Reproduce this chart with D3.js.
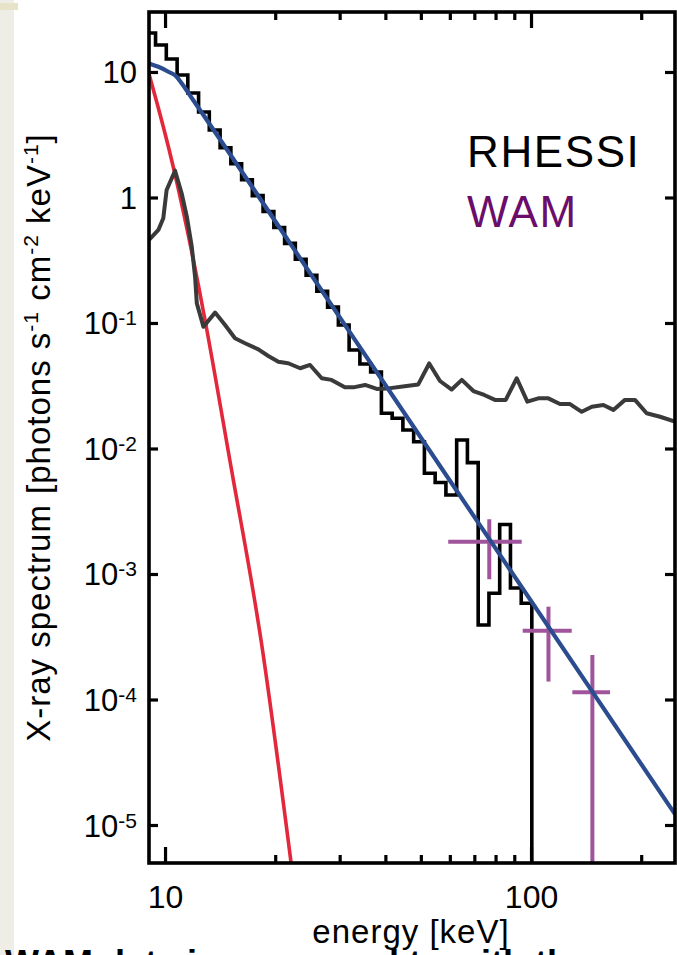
<!DOCTYPE html>
<html>
<head>
<meta charset="utf-8">
<script src="https://cdn.jsdelivr.net/npm/d3@7"></script>
<style>
  body { margin: 0; background: #fff; }
  svg { display: block; }
  text { font-family: "Liberation Sans", Arial, Helvetica, sans-serif; }
</style>
</head>
<body>
<svg width="677" height="955"></svg>
<script>
// RHESSI count spectrum, step histogram (bin edges in keV, flux per bin)
var rhessiEdges = [8.81, 9.42, 10.08, 10.79, 11.54, 12.35, 13.21, 14.14, 15.13, 16.19, 17.32, 18.53,
    19.83, 21.22, 22.70, 24.29, 25.99, 27.81, 29.76, 31.84, 34.07, 36.46, 39.01, 41.74, 44.66,
    47.79, 51.13, 54.71, 58.54, 62.64, 67.02, 71.72, 76.74, 82.11, 87.86, 94.02, 100.5];
var rhessiFlux = [20.46, 16.41, 12.69, 9.46, 6.80, 4.80, 3.45, 2.49, 1.856, 1.386, 1.035, 0.773,
    0.577, 0.431, 0.322, 0.240, 0.179, 0.1338, 0.0964, 0.0609, 0.0471, 0.0407, 0.01908, 0.01740,
    0.01404, 0.01133, 6.35e-3, 5.36e-3, 4.26e-3, 0.01169, 7.71e-3, 3.92e-4, 7.02e-4, 2.48e-3,
    7.73e-4, 5.84e-4];

// background spectrum (dark grey)
var bgEnergy = [9.04, 9.59, 9.89, 10.1, 10.65, 11.1, 11.47, 11.83, 12.08, 12.21, 12.73, 13.7,
    14.59, 15.53, 16.54, 17.99, 19.15, 20.4, 21.7, 23.4, 24.9, 26.8, 28.5, 31.0, 32.7, 35.2,
    37.9, 40.3, 45.7, 49.2, 52.7, 56.4, 60.7, 64.7, 69.6, 74.5, 79.7, 85.3, 91.4, 97.7, 104.7,
    111.5, 120, 127.8, 137.6, 146.6, 157.6, 167.9, 180.6, 192.3, 207, 225.2, 247.4];
var bgFlux = [0.459, 0.551, 0.683, 1.148, 1.635, 1.08, 0.703, 0.406, 0.234, 0.144, 0.0934, 0.121,
    0.0964, 0.0755, 0.0689, 0.0617, 0.0546, 0.0492, 0.0478, 0.0436, 0.0463, 0.0363, 0.0352,
    0.0307, 0.0307, 0.0321, 0.0298, 0.0300, 0.0315, 0.0324, 0.0476, 0.0345, 0.0295, 0.0352,
    0.0287, 0.0267, 0.0244, 0.0244, 0.0363, 0.0236, 0.0251, 0.0251, 0.0226, 0.0226, 0.0196,
    0.0215, 0.0222, 0.0203, 0.0244, 0.0244, 0.0191, 0.0179, 0.0164];

// total fit (blue) and thermal component (red)
var fitEnergy = [9.04, 9.59, 10.21, 10.76, 11.1, 11.83, 30.06, 76.7, 247.4];
var fitFlux = [11.7, 11.0, 10.05, 9.17, 8.13, 6.21, 0.1104, 1.92e-3, 1.22e-5];
var thermalEnergy = [9.04, 10.58, 12.86, 15.37, 18.29, 22.1];
var thermalFlux = [9.64, 1.656, 0.1057, 5.6e-3, 2.98e-4, 5.0e-6];

// WAM points with error bars
var wamEnergy = [76.9, 111.6, 147.1];
var wamELo = [59.4, 94.9, 129.7];
var wamEHi = [94.3, 129.2, 164.4];
var wamFlux = [1.81e-3, 3.53e-4, 1.14e-4];
var wamFLo = [9.08e-4, 1.39e-4, 1e-7];
var wamFHi = [2.73e-3, 5.49e-4, 2.26e-4];

// ticks
var yTicks = [1e-5, 1e-4, 1e-3, 1e-2, 1e-1, 1, 10];
var yExp = [-5, -4, -3, -2, -1, 0, 1];
var xMajor = [10, 100];
var xMinor = [20, 30, 40, 50, 60, 70, 80, 90, 200];

var svg = d3.select("svg");
var pLeft = 149, pRight = 675, pTop = 12, pBottom = 863;

var x = d3.scaleLog().domain([9.04, 247.4]).range([pLeft, pRight]);
var y = d3.scaleLog().domain([4.98e-6, 30.06]).range([pBottom, pTop]);

// page background strip at the left edge
svg.append("rect").attr("x", 0).attr("y", 0).attr("width", 14).attr("height", 955).attr("fill", "#eeede6");
svg.append("rect").attr("x", 0).attr("y", 3).attr("width", 18).attr("height", 7).attr("fill", "#e7e3c8");

svg.append("clipPath").attr("id", "plot")
    .append("rect").attr("x", pLeft).attr("y", pTop)
    .attr("width", pRight - pLeft).attr("height", pBottom - pTop);

var g = svg.append("g").attr("clip-path", "url(#plot)");

// histogram
var steps = rhessiFlux.map(function (f, i) { return [rhessiEdges[i], f]; });
steps.push([rhessiEdges[rhessiEdges.length - 1], 1e-6]);
var stepLine = d3.line()
    .x(function (d) { return x(d[0]); })
    .y(function (d) { return y(d[1]); })
    .curve(d3.curveStepAfter);
g.append("path").attr("d", stepLine(steps))
    .attr("fill", "none").attr("stroke", "#000").attr("stroke-width", 3.6)
    .attr("stroke-linejoin", "miter");

var line = d3.line()
    .x(function (d) { return x(d[0]); })
    .y(function (d) { return y(d[1]); });

// thermal
g.append("path")
    .attr("d", line.curve(d3.curveNatural)(d3.zip(thermalEnergy, thermalFlux)))
    .attr("fill", "none").attr("stroke", "#e2283a").attr("stroke-width", 3.6);

// background
g.append("path")
    .attr("d", line.curve(d3.curveLinear)(d3.zip(bgEnergy, bgFlux)))
    .attr("fill", "none").attr("stroke", "#3a3a3a").attr("stroke-width", 4)
    .attr("stroke-linejoin", "round");

// WAM crosses
var wam = g.append("g").attr("stroke", "#a0549c").attr("stroke-width", 4);
wamEnergy.forEach(function (e, i) {
    wam.append("line")
        .attr("x1", x(wamELo[i])).attr("x2", x(wamEHi[i]))
        .attr("y1", y(wamFlux[i])).attr("y2", y(wamFlux[i]));
    wam.append("line")
        .attr("x1", x(e)).attr("x2", x(e))
        .attr("y1", y(wamFHi[i])).attr("y2", y(Math.max(wamFLo[i], 1e-6)));
});

// fit
g.append("path")
    .attr("d", line.curve(d3.curveMonotoneX)(d3.zip(fitEnergy, fitFlux)))
    .attr("fill", "none").attr("stroke", "#2b4d8f").attr("stroke-width", 4.2);

// axes, ticks pointing inward
function styleAxis(sel) {
    sel.select(".domain").remove();
    sel.selectAll(".tick line").attr("stroke", "#000").attr("stroke-width", 3.2);
}
svg.append("g").attr("transform", "translate(0," + pBottom + ")")
    .call(d3.axisBottom(x).tickValues(xMinor).tickSize(-8).tickFormat(""))
    .call(styleAxis);
svg.append("g").attr("transform", "translate(0," + pTop + ")")
    .call(d3.axisTop(x).tickValues(xMinor).tickSize(-8).tickFormat(""))
    .call(styleAxis);
svg.append("g").attr("transform", "translate(0," + pTop + ")")
    .call(d3.axisTop(x).tickValues(xMajor).tickSize(-16).tickFormat(""))
    .call(styleAxis);
var xAx = svg.append("g").attr("transform", "translate(0," + pBottom + ")")
    .call(d3.axisBottom(x).tickValues(xMajor).tickSize(-16).tickPadding(22).tickFormat(d3.format("d")))
    .call(styleAxis);
xAx.attr("font-size", null).attr("font-family", null);
xAx.selectAll(".tick text").attr("font-size", 32).attr("fill", "#000");

svg.append("g").attr("transform", "translate(" + pLeft + ",0)")
    .call(d3.axisLeft(y).tickValues(yTicks).tickSize(-9).tickFormat(""))
    .call(styleAxis);
svg.append("g").attr("transform", "translate(" + pRight + ",0)")
    .call(d3.axisRight(y).tickValues(yTicks).tickSize(-10).tickFormat(""))
    .call(styleAxis);

// y tick labels with superscripts
yTicks.forEach(function (t, i) {
    var e = yExp[i];
    var txt = svg.append("text")
        .attr("x", 137).attr("y", y(t) + 11.5)
        .attr("text-anchor", "end").attr("font-size", 31).attr("fill", "#000");
    if (e === 1) txt.text("10");
    else if (e === 0) txt.text("1");
    else {
        txt.append("tspan").text("10");
        txt.append("tspan").attr("font-size", 21).attr("dy", -9).text("-" + (-e));
    }
});

// frame
svg.append("rect").attr("x", pLeft).attr("y", pTop)
    .attr("width", pRight - pLeft).attr("height", pBottom - pTop)
    .attr("fill", "none").attr("stroke", "#000").attr("stroke-width", 3.6);

// axis titles
svg.append("text").attr("x", 411).attr("y", 943)
    .attr("text-anchor", "middle").attr("font-size", 33).attr("letter-spacing", 1)
    .text("energy [keV]");

var yt = svg.append("text")
    .attr("transform", "translate(50," + ((pTop + pBottom) / 2) + ") rotate(-90)")
    .attr("text-anchor", "middle").attr("font-size", 33).attr("letter-spacing", 1);
yt.append("tspan").text("X-ray spectrum [photons s");
yt.append("tspan").attr("font-size", 21).attr("dy", -12).text("-1");
yt.append("tspan").attr("dy", 12).text(" cm");
yt.append("tspan").attr("font-size", 21).attr("dy", -12).text("-2");
yt.append("tspan").attr("dy", 12).text(" keV");
yt.append("tspan").attr("font-size", 21).attr("dy", -12).text("-1");
yt.append("tspan").attr("dy", 12).text("]");

// legend
svg.append("text").attr("x", 467).attr("y", 167)
    .attr("font-size", 44).attr("letter-spacing", 1.6).attr("fill", "#000").text("RHESSI");
svg.append("text").attr("x", 467).attr("y", 227)
    .attr("font-size", 44).attr("letter-spacing", 1.6).attr("fill", "#6b0d6b").text("WAM");

// caption of the page below, cut by the picture edge
svg.append("text").attr("x", 5).attr("y", 976)
    .attr("font-size", 36).attr("font-weight", "bold").attr("fill", "#000")
    .text("WAM data is compared to with the");
</script>
</body>
</html>
